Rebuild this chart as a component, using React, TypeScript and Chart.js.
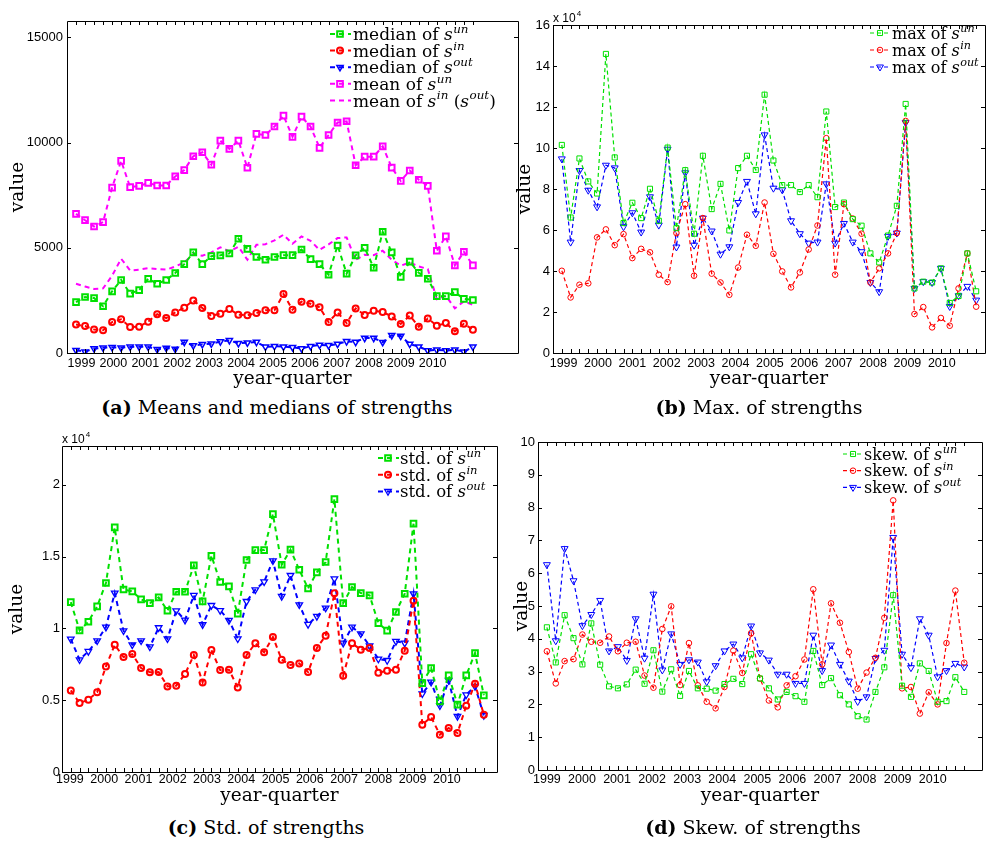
import React, { useEffect, useRef } from 'react';
import { Chart, registerables } from 'chart.js';

Chart.register(...registerables);

// ---------- categories / tick labels ----------
const QUARTERS = [
  '1999Q1', '1999Q2', '1999Q3', '1999Q4', '2000Q1', '2000Q2', '2000Q3', '2000Q4',
  '2001Q1', '2001Q2', '2001Q3', '2001Q4', '2002Q1', '2002Q2', '2002Q3', '2002Q4',
  '2003Q1', '2003Q2', '2003Q3', '2003Q4', '2004Q1', '2004Q2', '2004Q3', '2004Q4',
  '2005Q1', '2005Q2', '2005Q3', '2005Q4', '2006Q1', '2006Q2', '2006Q3', '2006Q4',
  '2007Q1', '2007Q2', '2007Q3', '2007Q4', '2008Q1', '2008Q2', '2008Q3', '2008Q4',
  '2009Q1', '2009Q2', '2009Q3', '2009Q4', '2010Q1', '2010Q2', '2010Q3', '2010Q4',
];
const YEAR_LABELS = ['1999', '2000', '2001', '2002', '2003', '2004', '2005', '2006', '2007', '2008', '2009', '2010'];

// ---------- (a) means and medians (1999Q1 .. 2010Q1) ----------
const A_MEDIAN_UN = [2420, 2660, 2610, 2220, 2930, 3470, 2820, 2990, 3530, 3290, 3470, 3800, 4220, 4780, 4220, 4600, 4640, 4730, 5430, 4950, 4560, 4430, 4560, 4650, 4650, 4920, 4460, 4220, 3720, 5110, 3770, 4640, 5000, 4050, 5760, 4780, 3620, 4340, 3810, 3530, 2700, 2700, 2890, 2570, 2520];
const A_MEDIAN_IN = [1350, 1280, 1120, 1080, 1470, 1600, 1230, 1250, 1490, 1840, 1660, 1930, 2150, 2500, 2140, 1760, 1870, 2090, 1820, 1790, 1900, 2030, 2030, 2800, 2060, 2440, 2340, 2170, 1470, 1930, 1420, 2120, 1800, 2010, 1950, 1740, 1380, 1780, 1250, 1640, 1300, 1420, 1030, 1390, 1110];
const A_MEDIAN_OUT = [130, 60, 210, 250, 270, 250, 290, 300, 290, 170, 240, 190, 520, 350, 410, 440, 540, 600, 460, 490, 520, 290, 320, 300, 270, 210, 320, 380, 360, 430, 550, 520, 710, 710, 510, 840, 810, 430, 300, 120, 150, 120, 150, 60, 300];
const A_MEAN_UN = [6610, 6310, 6010, 6220, 7860, 9130, 7880, 7940, 8080, 7960, 7960, 8390, 8690, 9350, 9540, 8950, 10090, 9700, 10090, 8800, 10410, 10360, 10760, 11280, 10270, 11230, 10760, 9750, 10360, 10950, 11010, 8920, 9330, 9330, 9820, 8810, 8180, 8670, 8230, 7940, 4860, 5540, 4160, 4810, 4160];
const A_MEAN_IN_OUT = [3290, 3160, 3040, 3070, 3670, 4480, 3920, 3960, 4030, 3990, 3960, 4110, 4300, 4700, 4620, 4780, 5020, 4830, 5050, 4430, 5140, 5170, 5350, 5620, 5190, 5540, 5330, 4900, 5160, 5460, 5490, 4430, 4670, 4650, 4860, 4430, 4150, 4300, 4110, 3990, 2560, 2720, 2120, 2450, 2290];
const A_Y_TICKS = [0, 5000, 10000, 15000];

// ---------- (b) max (x 10^4) ----------
const B_MAX_UN = [10.15, 6.61, 9.49, 8.37, 7.78, 14.59, 9.54, 6.34, 7.33, 6.58, 8.01, 6.45, 10.02, 6.09, 8.92, 5.82, 9.62, 7.02, 8.25, 5.98, 9.02, 9.62, 8.93, 12.6, 9.39, 8.19, 8.19, 7.85, 8.19, 7.6, 11.78, 7.12, 7.34, 6.53, 6.21, 4.86, 4.42, 5.73, 7.18, 12.15, 3.15, 3.48, 3.44, 4.13, 2.44, 2.78, 4.86, 3.01];
const B_MAX_IN = [4.01, 2.71, 3.33, 3.4, 5.64, 6.03, 5.26, 5.8, 4.63, 5.08, 4.91, 3.82, 3.46, 5.85, 7.26, 3.77, 6.58, 3.87, 3.44, 2.84, 4.17, 5.77, 5.23, 7.34, 4.84, 3.98, 3.2, 3.93, 5.05, 6.22, 10.48, 3.82, 7.26, 6.56, 5.82, 3.44, 4.13, 4.86, 5.85, 11.32, 1.9, 2.24, 1.25, 1.71, 1.33, 3.15, 4.86, 2.26];
const B_MAX_OUT = [9.47, 5.41, 8.9, 7.94, 7.13, 9.16, 9.03, 6.16, 6.84, 5.9, 7.62, 6.24, 9.94, 5.17, 8.79, 5.26, 6.58, 5.95, 4.82, 5.18, 7.34, 8.37, 6.79, 10.64, 8.04, 7.96, 6.45, 5.82, 5.36, 5.41, 8.25, 5.36, 6.32, 5.41, 4.94, 3.44, 2.99, 5.69, 5.85, 11.24, 3.15, 3.48, 3.44, 4.13, 2.27, 2.79, 3.25, 2.58];
const B_Y_TICKS = [0, 2, 4, 6, 8, 10, 12, 14, 16];

// ---------- (c) std (x 10^4) ----------
const C_STD_UN = [1.183, 0.986, 1.046, 1.153, 1.316, 1.703, 1.271, 1.258, 1.202, 1.176, 1.216, 1.123, 1.255, 1.255, 1.439, 1.188, 1.506, 1.323, 1.292, 1.102, 1.476, 1.545, 1.545, 1.796, 1.443, 1.548, 1.408, 1.278, 1.39, 1.462, 1.9, 1.176, 1.288, 1.246, 1.23, 1.037, 0.984, 1.114, 1.241, 1.729, 0.619, 0.724, 0.492, 0.673, 0.469, 0.673, 0.828, 0.534];
const C_STD_IN = [0.568, 0.48, 0.503, 0.555, 0.735, 0.886, 0.8, 0.821, 0.724, 0.694, 0.696, 0.596, 0.601, 0.682, 0.814, 0.624, 0.849, 0.71, 0.712, 0.589, 0.814, 0.896, 0.833, 0.94, 0.782, 0.745, 0.756, 0.696, 0.863, 0.949, 1.244, 0.671, 0.896, 0.852, 0.863, 0.691, 0.705, 0.712, 0.845, 1.193, 0.329, 0.383, 0.26, 0.306, 0.271, 0.462, 0.615, 0.399];
const C_STD_OUT = [0.926, 0.782, 0.84, 0.914, 1.009, 1.246, 0.984, 0.886, 0.914, 0.872, 1.005, 0.928, 1.123, 1.058, 1.23, 1.026, 1.16, 1.125, 1.056, 0.928, 1.188, 1.269, 1.325, 1.471, 1.223, 1.369, 1.165, 1.028, 1.084, 1.142, 1.346, 0.898, 1.009, 0.963, 0.879, 0.787, 0.777, 0.91, 0.898, 1.241, 0.545, 0.626, 0.462, 0.638, 0.387, 0.538, 0.596, 0.394];
const C_Y_TICKS = [0, 0.5, 1, 1.5, 2];

// ---------- (d) skewness ----------
const D_SKEW_UN = [4.35, 3.28, 4.72, 4.02, 3.22, 4.47, 3.21, 2.55, 2.49, 2.61, 3.06, 2.63, 3.65, 2.39, 3.07, 2.26, 3.02, 2.49, 2.48, 2.42, 2.62, 2.78, 2.62, 3.53, 2.79, 2.49, 2.15, 2.38, 2.25, 2.08, 3.63, 2.59, 2.8, 2.28, 2.0, 1.64, 1.54, 2.38, 3.13, 5.33, 2.57, 2.23, 3.25, 3.02, 2.08, 2.1, 2.83, 2.38];
const D_SKEW_IN = [3.62, 2.64, 3.32, 3.38, 4.13, 3.91, 3.88, 4.07, 3.62, 3.88, 3.91, 2.88, 2.51, 4.3, 4.99, 2.59, 3.87, 2.58, 2.08, 1.88, 2.53, 3.64, 2.96, 4.17, 2.79, 2.12, 1.91, 2.58, 2.86, 3.37, 5.51, 3.22, 5.08, 4.49, 3.6, 2.48, 2.97, 3.42, 4.64, 8.22, 2.49, 2.53, 1.72, 2.37, 2.0, 3.87, 5.47, 3.27];
const D_SKEW_OUT = [6.26, 3.94, 6.75, 5.77, 4.4, 4.74, 5.17, 3.63, 3.76, 3.34, 4.61, 3.41, 5.36, 3.05, 4.15, 3.22, 3.36, 3.29, 2.69, 3.18, 3.63, 3.84, 3.42, 4.39, 3.57, 3.35, 2.92, 2.92, 2.64, 2.64, 4.11, 3.03, 3.81, 3.22, 2.71, 2.09, 2.23, 3.4, 3.65, 7.09, 3.53, 3.12, 4.61, 4.11, 2.84, 3.03, 3.25, 3.14];
const D_Y_TICKS = [0, 1, 2, 3, 4, 5, 6, 7, 8, 9, 10];

// ---------- colours ----------
const GREEN = '#00e000';
const RED = '#ff0000';
const BLUE = '#0000ff';
const MAGENTA = '#ff00ff';

type Seg = { t: string; it?: boolean; sup?: boolean };
type Marker = 'rect' | 'circle' | 'tri' | null;
interface Series { data: number[]; color: string; marker: Marker; legend: Seg[] }
interface PanelCfg {
  canvas: { left: number; top: number; width: number; height: number };
  area: { left: number; top: number; right: number; bottom: number };
  xMin: number; xMax: number; yMax: number; yTicks: number[];
  yearStart: number; yearStep: number;
  lineWidth: number; dash: number[]; markerR: { rect: number; circle: number; tri: number }; markerW: number; triW: number;
  legend: { x0: number; x1: number; mx: number; tx: number; y0: number; dy: number; fs: number };
  exponent?: { x: number; y: number };
  xTickPad: number; yTickPad: number; xTitlePad: number; yTitlePad: number;
  caption: { bold: string; text: string; cx: number; top: number };
  series: Series[];
}

const lbl = (word: string, sup: string): Seg[] => [{ t: word + ' of ' }, { t: 's', it: true }, { t: sup, it: true, sup: true }];

const PANELS: PanelCfg[] = [
  {
    canvas: { left: 0, top: 0, width: 545, height: 395 },
    area: { left: 67, top: 21, right: 518, bottom: 353 },
    xMin: 0, xMax: 50, yMax: 15775, yTicks: A_Y_TICKS,
    yearStart: 1.6, yearStep: 3.54,
    lineWidth: 2, dash: [5, 4], markerR: { rect: 4, circle: 3, tri: 3.6 }, markerW: 2, triW: 1.5,
    legend: { x0: 330, x1: 351, mx: 340, tx: 353, y0: 34, dy: 16.6, fs: 17 },
    xTickPad: 3, yTickPad: 4, xTitlePad: 5, yTitlePad: 8,
    caption: { bold: '(a)', text: ' Means and medians of strengths', cx: 277, top: 395 },
    series: [
      { data: A_MEDIAN_UN, color: GREEN, marker: 'rect', legend: lbl('median', 'un') },
      { data: A_MEDIAN_IN, color: RED, marker: 'circle', legend: lbl('median', 'in') },
      { data: A_MEDIAN_OUT, color: BLUE, marker: 'tri', legend: lbl('median', 'out') },
      { data: A_MEAN_UN, color: MAGENTA, marker: 'rect', legend: lbl('mean', 'un') },
      {
        data: A_MEAN_IN_OUT, color: MAGENTA, marker: null,
        legend: [{ t: 'mean of ' }, { t: 's', it: true }, { t: 'in', it: true, sup: true }, { t: ' (' }, { t: 's', it: true }, { t: 'out', it: true, sup: true }, { t: ')' }],
      },
    ],
  },
  {
    canvas: { left: 510, top: 0, width: 480, height: 395 },
    area: { left: 43, top: 25, right: 478, bottom: 353 },
    xMin: 0, xMax: 49, yMax: 16, yTicks: B_Y_TICKS,
    yearStart: 1.2, yearStep: 3.9,
    lineWidth: 1.2, dash: [4, 3], markerR: { rect: 3.6, circle: 2.8, tri: 4 }, markerW: 1, triW: 1,
    legend: { x0: 360, x1: 380, mx: 370, tx: 382, y0: 33, dy: 17, fs: 16 },
    exponent: { x: 43, y: 22 },
    xTickPad: 3, yTickPad: 3, xTitlePad: 5, yTitlePad: 5,
    caption: { bold: '(b)', text: ' Max. of strengths', cx: 759, top: 395 },
    series: [
      { data: B_MAX_UN, color: GREEN, marker: 'rect', legend: lbl('max', 'un') },
      { data: B_MAX_IN, color: RED, marker: 'circle', legend: lbl('max', 'in') },
      { data: B_MAX_OUT, color: BLUE, marker: 'tri', legend: lbl('max', 'out') },
    ],
  },
  {
    canvas: { left: 0, top: 420, width: 530, height: 395 },
    area: { left: 62, top: 26, right: 497, bottom: 352 },
    xMin: 0, xMax: 49.5, yMax: 2.27, yTicks: C_Y_TICKS,
    yearStart: 0.9, yearStep: 3.9,
    lineWidth: 2, dash: [5, 4], markerR: { rect: 4, circle: 3, tri: 3.8 }, markerW: 2, triW: 1.3,
    legend: { x0: 378, x1: 399, mx: 388, tx: 400, y0: 38, dy: 16.7, fs: 16.5 },
    exponent: { x: 62, y: 23 },
    xTickPad: 0, yTickPad: 2, xTitlePad: 8, yTitlePad: 7,
    caption: { bold: '(c)', text: ' Std. of strengths', cx: 266, top: 815 },
    series: [
      { data: C_STD_UN, color: GREEN, marker: 'rect', legend: lbl('std.', 'un') },
      { data: C_STD_IN, color: RED, marker: 'circle', legend: lbl('std.', 'in') },
      { data: C_STD_OUT, color: BLUE, marker: 'tri', legend: lbl('std.', 'out') },
    ],
  },
  {
    canvas: { left: 500, top: 420, width: 490, height: 395 },
    area: { left: 38, top: 22, right: 482, bottom: 350 },
    xMin: 0, xMax: 50, yMax: 10, yTicks: D_Y_TICKS,
    yearStart: 1.0, yearStep: 3.95,
    lineWidth: 1.2, dash: [4, 3], markerR: { rect: 3.6, circle: 2.8, tri: 4 }, markerW: 1, triW: 1,
    legend: { x0: 343, x1: 363, mx: 353, tx: 364, y0: 34, dy: 16.7, fs: 16 },
    xTickPad: 2, yTickPad: 3, xTitlePad: 8, yTitlePad: 12,
    caption: { bold: '(d)', text: ' Skew. of strengths', cx: 753, top: 815 },
    series: [
      { data: D_SKEW_UN, color: GREEN, marker: 'rect', legend: lbl('skew.', 'un') },
      { data: D_SKEW_IN, color: RED, marker: 'circle', legend: lbl('skew.', 'in') },
      { data: D_SKEW_OUT, color: BLUE, marker: 'tri', legend: lbl('skew.', 'out') },
    ],
  },
];

const SERIF = '"DejaVu Serif", serif';
const SANS = '"Liberation Sans", Arial, sans-serif';

function drawMarker(ctx: CanvasRenderingContext2D, kind: Marker, x: number, y: number, cfg: PanelCfg) {
  if (!kind) return;
  ctx.beginPath();
  if (kind === 'rect') {
    const h = cfg.markerR.rect * Math.SQRT1_2;
    ctx.rect(x - h, y - h, 2 * h, 2 * h);
  } else if (kind === 'circle') {
    ctx.arc(x, y, cfg.markerR.circle, 0, Math.PI * 2);
  } else {
    const r = cfg.markerR.tri;
    ctx.lineWidth = cfg.triW;
    ctx.moveTo(x, y + r);
    ctx.lineTo(x - 0.866 * r, y - 0.5 * r);
    ctx.lineTo(x + 0.866 * r, y - 0.5 * r);
    ctx.closePath();
  }
  ctx.stroke();
}

function drawSegs(ctx: CanvasRenderingContext2D, segs: Seg[], x: number, y: number, fs: number) {
  let cx = x;
  for (const s of segs) {
    const size = s.sup ? fs * 0.7 : fs;
    ctx.font = `${s.it ? 'italic ' : ''}${size}px ${SERIF}`;
    ctx.fillText(s.t, cx, s.sup ? y - fs * 0.42 : y);
    cx += ctx.measureText(s.t).width + (s.it && !s.sup ? 0.5 : 0);
  }
}

function makeDecor(cfg: PanelCfg) {
  const nTicks = Math.max(...cfg.series.map((s) => s.data.length));
  return {
    id: 'matlabDecor',
    afterDraw(chart: any) {
      const { ctx, chartArea } = chart;
      const { left, right, top, bottom } = chartArea;
      const xs = chart.scales.x;
      const ys = chart.scales.y;
      ctx.save();
      ctx.strokeStyle = '#000';
      ctx.lineWidth = 1;
      ctx.setLineDash([]);
      ctx.beginPath();
      ctx.rect(Math.round(left) + 0.5, Math.round(top) + 0.5, Math.round(right - left), Math.round(bottom - top));
      const tl = 4;
      QUARTERS.slice(0, nTicks).forEach((_, i) => {
        const px = Math.round(xs.getPixelForValue(i + 1)) + 0.5;
        ctx.moveTo(px, bottom);
        ctx.lineTo(px, bottom - tl);
        ctx.moveTo(px, top);
        ctx.lineTo(px, top + tl);
      });
      ys.ticks.forEach((t: any) => {
        const py = Math.round(ys.getPixelForValue(t.value)) + 0.5;
        ctx.moveTo(left, py);
        ctx.lineTo(left + tl, py);
        ctx.moveTo(right, py);
        ctx.lineTo(right - tl, py);
      });
      ctx.stroke();

      if (cfg.exponent) {
        ctx.fillStyle = '#000';
        ctx.textBaseline = 'alphabetic';
        ctx.font = `12px ${SANS}`;
        ctx.fillText('x 10', cfg.exponent.x, cfg.exponent.y);
        const w = ctx.measureText('x 10').width;
        ctx.font = `8px ${SANS}`;
        ctx.fillText('4', cfg.exponent.x + w + 1, cfg.exponent.y - 6);
      }

      const lg = cfg.legend;
      cfg.series.forEach((s, i) => {
        const y = lg.y0 + i * lg.dy;
        ctx.strokeStyle = s.color;
        ctx.lineWidth = cfg.lineWidth;
        ctx.setLineDash(cfg.dash);
        ctx.beginPath();
        ctx.moveTo(lg.x0, y);
        ctx.lineTo(lg.x1, y);
        ctx.stroke();
        ctx.setLineDash([]);
        ctx.lineWidth = cfg.markerW;
        drawMarker(ctx, s.marker, lg.mx, y, cfg);
        ctx.fillStyle = '#000';
        ctx.textBaseline = 'alphabetic';
        drawSegs(ctx, s.legend, lg.tx, y + lg.fs * 0.36, lg.fs);
      });
      ctx.restore();
    },
  };
}

function Panel({ cfg }: { cfg: PanelCfg }) {
  const ref = useRef<HTMLCanvasElement | null>(null);
  useEffect(() => {
    const canvas = ref.current;
    if (!canvas) return;
    const { width: W, height: H } = cfg.canvas;
    const a = cfg.area;
    const fmt = (v: number) => String(Math.round(v * 1000) / 1000);
    const chart = new Chart(canvas, {
      type: 'line',
      data: {
        datasets: cfg.series.map((s) => ({
          data: s.data.map((v, i) => ({ x: i + 1, y: v })),
          borderColor: s.color,
          borderWidth: cfg.lineWidth,
          borderDash: cfg.dash,
          fill: false,
          tension: 0,
          pointStyle: s.marker === 'tri' ? 'triangle' : s.marker === 'rect' ? 'rect' : 'circle',
          pointRotation: s.marker === 'tri' ? 180 : 0,
          pointRadius: s.marker ? (s.marker === 'rect' ? cfg.markerR.rect : s.marker === 'circle' ? cfg.markerR.circle : cfg.markerR.tri) : 0,
          pointBorderColor: s.color,
          pointBackgroundColor: 'rgba(0,0,0,0)',
          pointBorderWidth: s.marker === 'tri' ? cfg.triW : cfg.markerW,
          pointHoverRadius: 0,
        })),
      },
      options: {
        animation: false,
        responsive: false,
        devicePixelRatio: 1,
        events: [],
        layout: { padding: { left: 0, top: a.top, right: W - a.right, bottom: 0 } },
        plugins: { legend: { display: false }, tooltip: { enabled: false }, title: { display: false } },
        scales: {
          x: {
            type: 'linear',
            min: cfg.xMin,
            max: cfg.xMax,
            afterBuildTicks: (scale: any) => {
              scale.ticks = YEAR_LABELS.map((_, k) => ({ value: cfg.yearStart + k * cfg.yearStep }));
            },
            afterFit: (scale: any) => {
              scale.height = H - a.bottom;
            },
            grid: { display: false, drawTicks: false },
            border: { display: false },
            ticks: {
              autoSkip: false,
              maxRotation: 0,
              minRotation: 0,
              padding: cfg.xTickPad,
              color: '#000',
              font: { family: SANS, size: 12.5 },
              callback: (_v: any, idx: number) => YEAR_LABELS[idx],
            },
            title: {
              display: true,
              text: 'year-quarter',
              color: '#000',
              font: { family: SERIF, size: 18.5 },
              padding: { top: 0, bottom: cfg.xTitlePad },
            },
          },
          y: {
            type: 'linear',
            min: 0,
            max: cfg.yMax,
            afterBuildTicks: (scale: any) => {
              scale.ticks = cfg.yTicks.map((v) => ({ value: v }));
            },
            afterFit: (scale: any) => {
              scale.width = a.left;
            },
            grid: { display: false, drawTicks: false },
            border: { display: false },
            ticks: {
              autoSkip: false,
              padding: cfg.yTickPad,
              color: '#000',
              font: { family: SANS, size: 13 },
              callback: (v: any) => fmt(Number(v)),
            },
            title: {
              display: true,
              text: 'value',
              color: '#000',
              font: { family: SERIF, size: 18.5 },
              padding: { top: cfg.yTitlePad - 1, bottom: 0 },
            },
          },
        },
      },
      plugins: [makeDecor(cfg)],
    } as any);
    return () => chart.destroy();
  }, [cfg]);
  const c = cfg.canvas;
  return (
    <canvas
      ref={ref}
      width={c.width}
      height={c.height}
      style={{ position: 'absolute', left: c.left, top: c.top, width: c.width, height: c.height }}
    />
  );
}

export default function App() {
  return (
    <div style={{ position: 'absolute', left: 0, top: 0, width: 990, height: 842, background: '#fff', overflow: 'hidden' }}>
      {PANELS.map((p, i) => (
        <Panel key={i} cfg={p} />
      ))}
      {PANELS.map((p, i) => (
        <div
          key={'cap' + i}
          style={{
            position: 'absolute',
            left: p.caption.cx - 250,
            width: 500,
            top: p.caption.top,
            textAlign: 'center',
            fontFamily: SERIF,
            fontSize: 19,
            lineHeight: '24px',
            color: '#000',
            whiteSpace: 'nowrap',
          }}
        >
          <b>{p.caption.bold}</b>
          {p.caption.text}
        </div>
      ))}
    </div>
  );
}
